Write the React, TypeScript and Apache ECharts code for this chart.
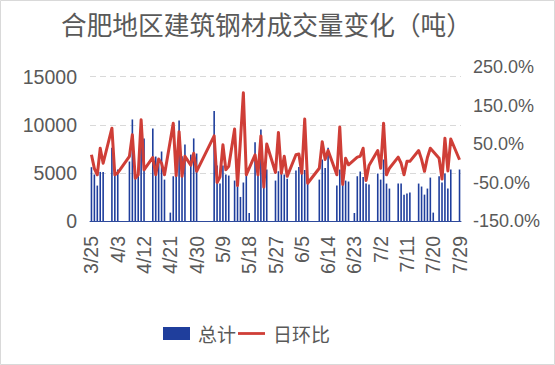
import React, { useEffect, useRef } from "react";
import * as echarts from "echarts";

const titleText = "合肥地区建筑钢材成交量变化（吨）";

const dates = [
  "3/25", "3/26", "3/27", "3/28", "3/29", "3/30", "3/31",
  "4/1", "4/2", "4/3", "4/4", "4/5", "4/6", "4/7", "4/8", "4/9", "4/10",
  "4/11", "4/12", "4/13", "4/14", "4/15", "4/16", "4/17", "4/18", "4/19", "4/20",
  "4/21", "4/22", "4/23", "4/24", "4/25", "4/26", "4/27", "4/28", "4/29", "4/30",
  "5/1", "5/2", "5/3", "5/4", "5/5", "5/6", "5/7", "5/8", "5/9", "5/10",
  "5/11", "5/12", "5/13", "5/14", "5/15", "5/16", "5/17", "5/18", "5/19", "5/20",
  "5/21", "5/22", "5/23", "5/24", "5/25", "5/26", "5/27", "5/28", "5/29", "5/30", "5/31",
  "6/1", "6/2", "6/3", "6/4", "6/5", "6/6", "6/7", "6/8", "6/9", "6/10",
  "6/11", "6/12", "6/13", "6/14", "6/15", "6/16", "6/17", "6/18", "6/19", "6/20",
  "6/21", "6/22", "6/23", "6/24", "6/25", "6/26", "6/27", "6/28", "6/29", "6/30",
  "7/1", "7/2", "7/3", "7/4", "7/5", "7/6", "7/7", "7/8", "7/9", "7/10",
  "7/11", "7/12", "7/13", "7/14", "7/15", "7/16", "7/17", "7/18", "7/19", "7/20",
  "7/21", "7/22", "7/23", "7/24", "7/25", "7/26", "7/27", "7/28", "7/29",
];

// 总计 (吨), one entry per calendar day, null = no trading data
const volume = [
  5590, 4830, 3680, 5100, 5100, null, null,
  7600, 5200, 5350, null, null, null, 6180,
  10550, 4480, 4830, 10550, 8580, null, null,
  9620, 6700, 6390, 7220, 4300, null, 870,
  4650, 4830, 10450, 6740, 7950, null, 6900,
  8580, 7010, null, null, null, null, null,
  11420, 5760, 3890, 5760, 4830, 4720, null,
  4200, 3600, 2500, 4000, 4830, 830, null,
  8190, 4830, 9510, 3440, 5350, null, null,
  4200, 5170, 5000, 4830, 4400, null, null,
  5240, 5600, 4930, 5300, 4400, null, null,
  null, 4300, 6390, 5500, 7600, null, null,
  3680, 5350, 3750, 4200, 4100, null, 830,
  4650, 5140, 4580, 3890, 3790, null, null,
  4930, 4300, 6390, 3890, 3370, null, null,
  3890, 3890, 2740, 2850, 2950, null, null,
  3890, 3580, 2740, 3370, 4510, 870, null,
  4650, 4000, 4930, 3370, 5350, null, null,
  5350,
];

// 日环比 (%)
const change = [
  22, -14, -30, 39, 0, null, null,
  91, -30, -25, null, null, null, 18,
  74, -39, -30, 113, -17, null, null,
  15, -30, 11, 0, -30, null, null,
  104, -32, 82, -34, 18, null, -5,
  26, -21, null, null, null, null, null,
  71, -50, -35, 48, -17, -8, null,
  89, -58, 60, 183, -30, null, null,
  22, -30, 71, -62, 50, null, null,
  -24, 80, -26, 18, -34, null, null,
  22, 24, -26, 115, -52, null, null,
  null, -13, 56, 10, 33, null, null,
  -30, 94, -55, 13, -4, null, null,
  16, 18, 39, -45, -6, null, null,
  33, -13, 104, -30, -13, null, null,
  16, 0, -30, 5, 5, null, null,
  33, 10, -21, 15, 39, null, null,
  13, -41, 65, -20, 63, null, null,
  9,
];

const leftMax = 16000;
const leftInterval = 5000;
const rightMinPct = -150;
const rightMaxPct = 250;
const rightIntervalPct = 100;

const LABEL_FONT = "'Liberation Sans', Arial, sans-serif";
const CJK_FONT = "'Noto Sans CJK SC', 'Noto Sans', sans-serif";
const TEXT_COLOR = "#595959";
const BAR_COLOR = "#1F3E9C";
const LINE_COLOR = "#CF3E37";

export default function App() {
  const ref = useRef<HTMLDivElement>(null);

  useEffect(() => {
    document.body.style.margin = "0";
    const chart = echarts.init(ref.current as HTMLDivElement, null, { renderer: "svg" });
    const shifted = change.map((v) => (v == null ? null : v - rightMinPct));
    chart.setOption({
      animation: false,
      backgroundColor: "#ffffff",
      title: {
        text: titleText,
        left: 61,
        top: 11,
        padding: 0,
        textStyle: {
          fontFamily: CJK_FONT,
          fontSize: 25.7,
          fontWeight: "normal",
          color: TEXT_COLOR,
        },
      },
      graphic: [
        {
          type: "rect",
          shape: { x: 0.5, y: 0.5, width: 554, height: 364 },
          style: { fill: "none", stroke: "#D9D9D9", lineWidth: 1 },
          silent: true,
        },
      ],
      legend: {
        data: [
          { name: "总计", icon: "rect" },
          { name: "日环比", icon: "path://M0,0H29V3H0Z" },
        ],
        left: 163,
        top: 324,
        padding: 0,
        itemWidth: 27,
        itemHeight: 13,
        itemGap: 2,
        textStyle: {
          fontFamily: CJK_FONT,
          fontSize: 19,
          color: TEXT_COLOR,
          padding: [0, 0, 0, 3],
        },
      },
      grid: { left: 90, right: 94, top: 67, bottom: 144, containLabel: false },
      xAxis: {
        type: "category",
        data: dates,
        boundaryGap: true,
        axisLine: { show: true, lineStyle: { color: "#2E4A9C", width: 1 } },
        axisTick: { show: false },
        axisLabel: {
          interval: 8,
          rotate: 90,
          margin: 15,
          fontSize: 19.5,
          color: TEXT_COLOR,
          fontFamily: LABEL_FONT,
        },
      },
      yAxis: [
        {
          type: "value",
          min: 0,
          max: leftMax,
          interval: leftInterval,
          axisLine: { show: false },
          axisTick: { show: false },
          axisLabel: {
            margin: 13,
            fontSize: 19.5,
            color: TEXT_COLOR,
            fontFamily: LABEL_FONT,
            formatter: (v: number) => (v > 15000 ? "" : String(v)),
          },
          splitLine: {
            show: true,
            showMinLine: false,
            showMaxLine: false,
            lineStyle: { color: "#D9D9D9", width: 1, type: [6, 4] },
          },
        },
        {
          type: "value",
          position: "right",
          min: 0,
          max: rightMaxPct - rightMinPct,
          interval: rightIntervalPct,
          axisLine: { show: false },
          axisTick: { show: false },
          splitLine: { show: false },
          axisLabel: {
            margin: 12,
            fontSize: 18,
            color: TEXT_COLOR,
            fontFamily: LABEL_FONT,
            formatter: (v: number) => (v + rightMinPct).toFixed(1) + "%",
          },
        },
      ],
      series: [
        {
          name: "总计",
          type: "bar",
          data: volume,
          barWidth: 1.6,
          itemStyle: { color: BAR_COLOR },
        },
        {
          name: "日环比",
          type: "line",
          yAxisIndex: 1,
          data: shifted,
          connectNulls: true,
          symbol: "none",
          lineStyle: { color: LINE_COLOR, width: 3, join: "round" },
          itemStyle: { color: LINE_COLOR },
        },
      ],
    });
    return () => chart.dispose();
  }, []);

  return <div ref={ref} style={{ width: 555, height: 365 }} />;
}
